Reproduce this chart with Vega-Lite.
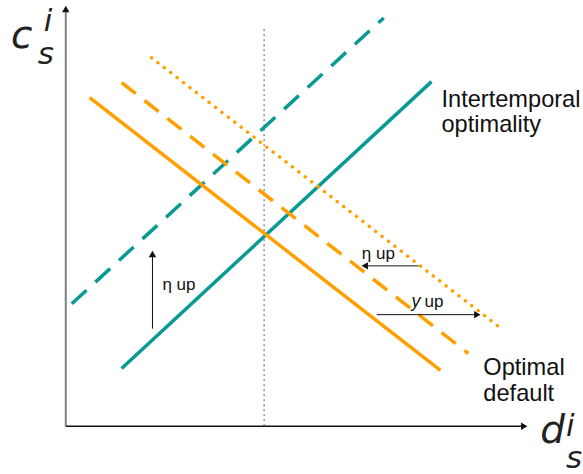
{
  "$schema": "https://vega.github.io/schema/vega-lite/v6.json",
  "width": 583,
  "height": 474,
  "autosize": {"type": "fit", "contains": "padding"},
  "padding": 0,
  "background": "white",
  "config": {"view": {"stroke": null}},
  "datasets": {
    "lines": [
      {"line": "teal_solid", "x": 56, "y": 58},
      {"line": "teal_solid", "x": 367, "y": 346},
      {"line": "teal_dashed", "x": 6, "y": 123},
      {"line": "teal_dashed", "x": 319, "y": 410},
      {"line": "orange_solid", "x": 24, "y": 330},
      {"line": "orange_solid", "x": 376, "y": 56},
      {"line": "orange_dashed", "x": 56, "y": 345},
      {"line": "orange_dashed", "x": 404, "y": 73},
      {"line": "orange_dotted", "x": 86, "y": 370},
      {"line": "orange_dotted", "x": 437, "y": 98}
    ],
    "axes": [
      {"axis": "x", "x": 0, "y": 0, "x2": 460, "y2": 0},
      {"axis": "y", "x": 0, "y": 0, "x2": 0, "y2": 419}
    ],
    "guide": [{"x": 199, "y": 0, "x2": 199, "y2": 401}],
    "arrows": [
      {"id": "eta_vertical", "x": 87, "y": 98, "x2": 87, "y2": 173},
      {"id": "eta_left", "x": 354, "y": 161, "x2": 300, "y2": 161},
      {"id": "gamma_right", "x": 312, "y": 112, "x2": 413, "y2": 112}
    ],
    "heads": [
      {"dir": "up", "x": 87, "y": 173},
      {"dir": "left", "x": 300, "y": 161},
      {"dir": "right", "x": 413, "y": 112},
      {"dir": "right", "x": 460, "y": 0},
      {"dir": "up", "x": 0, "y": 419}
    ],
    "labels": [
      {"t": "Intertemporal", "x": 377, "y": 321},
      {"t": "optimality", "x": 377, "y": 295},
      {"t": "Optimal", "x": 419, "y": 51},
      {"t": "default", "x": 419, "y": 25}
    ],
    "small": [
      {"t": "η up", "x": 97, "y": 142},
      {"t": "η up", "x": 297, "y": 173},
      {"t": "up", "x": 360, "y": 125}
    ],
    "smallitalic": [{"t": "y", "x": 347, "y": 125}],
    "mathmain": [
      {"t": "c", "x": -55, "y": 380},
      {"t": "d", "x": 476, "y": -17}
    ],
    "mathsub": [
      {"t": "s", "x": -28, "y": 364},
      {"t": "i", "x": -22, "y": 397},
      {"t": "i", "x": 502, "y": -10},
      {"t": "s", "x": 502, "y": -42}
    ]
  },
  "encoding": {
    "x": {"field": "x", "type": "quantitative", "scale": {"domain": [-66, 517], "nice": false, "zero": false}, "axis": null},
    "y": {"field": "y", "type": "quantitative", "scale": {"domain": [-46, 428], "nice": false, "zero": false}, "axis": null}
  },
  "layer": [
    {
      "data": {"name": "axes"},
      "transform": [{"filter": "datum.axis === 'y'"}],
      "mark": {"type": "rule", "color": "#808080", "strokeWidth": 2},
      "encoding": {"x2": {"field": "x2"}, "y2": {"field": "y2"}}
    },
    {
      "data": {"name": "axes"},
      "transform": [{"filter": "datum.axis === 'x'"}],
      "mark": {"type": "rule", "color": "#111111", "strokeWidth": 1.5},
      "encoding": {"x2": {"field": "x2"}, "y2": {"field": "y2"}}
    },
    {
      "data": {"name": "guide"},
      "mark": {"type": "rule", "color": "#555555", "strokeWidth": 1, "strokeDash": [2, 3]},
      "encoding": {"x2": {"field": "x2"}, "y2": {"field": "y2"}}
    },
    {
      "data": {"name": "lines"},
      "transform": [{"filter": "datum.line === 'teal_dashed'"}],
      "mark": {"type": "line", "color": "#0a9a94", "strokeWidth": 3.5, "strokeDash": [20, 12]}
    },
    {
      "data": {"name": "lines"},
      "transform": [{"filter": "datum.line === 'teal_solid'"}],
      "mark": {"type": "line", "color": "#0a9a94", "strokeWidth": 3.5}
    },
    {
      "data": {"name": "lines"},
      "transform": [{"filter": "datum.line === 'orange_solid'"}],
      "mark": {"type": "line", "color": "#ffa000", "strokeWidth": 3.5}
    },
    {
      "data": {"name": "lines"},
      "transform": [{"filter": "datum.line === 'orange_dashed'"}],
      "mark": {"type": "line", "color": "#ffa000", "strokeWidth": 3.5, "strokeDash": [18, 11]}
    },
    {
      "data": {"name": "lines"},
      "transform": [{"filter": "datum.line === 'orange_dotted'"}],
      "mark": {"type": "line", "color": "#ffa000", "strokeWidth": 3.5, "strokeDash": [0.1, 8], "strokeCap": "round"}
    },
    {
      "data": {"name": "arrows"},
      "mark": {"type": "rule", "color": "#111111", "strokeWidth": 1},
      "encoding": {"x2": {"field": "x2"}, "y2": {"field": "y2"}}
    },
    {
      "data": {"name": "heads"},
      "mark": {"type": "point", "filled": true, "color": "#111111", "size": 55, "opacity": 1},
      "encoding": {
        "shape": {"field": "dir", "type": "nominal", "scale": {"domain": ["up", "left", "right"], "range": ["triangle-up", "triangle-left", "triangle-right"]}, "legend": null}
      }
    },
    {
      "data": {"name": "labels"},
      "mark": {"type": "text", "font": "Liberation Sans", "fontSize": 23.6, "align": "left", "baseline": "alphabetic", "color": "#111111"},
      "encoding": {"text": {"field": "t"}}
    },
    {
      "data": {"name": "small"},
      "mark": {"type": "text", "font": "Liberation Sans", "fontSize": 17, "align": "left", "baseline": "middle", "color": "#111111"},
      "encoding": {"text": {"field": "t"}}
    },
    {
      "data": {"name": "smallitalic"},
      "mark": {"type": "text", "font": "Liberation Sans", "fontSize": 18, "fontStyle": "italic", "align": "left", "baseline": "middle", "color": "#111111"},
      "encoding": {"text": {"field": "t"}}
    },
    {
      "data": {"name": "mathmain"},
      "mark": {"type": "text", "font": "DejaVu Sans", "fontSize": 39, "fontStyle": "italic", "align": "left", "baseline": "alphabetic", "color": "#222222"},
      "encoding": {"text": {"field": "t"}}
    },
    {
      "data": {"name": "mathsub"},
      "mark": {"type": "text", "font": "DejaVu Sans", "fontSize": 31, "fontStyle": "italic", "align": "left", "baseline": "alphabetic", "color": "#222222"},
      "encoding": {"text": {"field": "t"}}
    }
  ]
}
